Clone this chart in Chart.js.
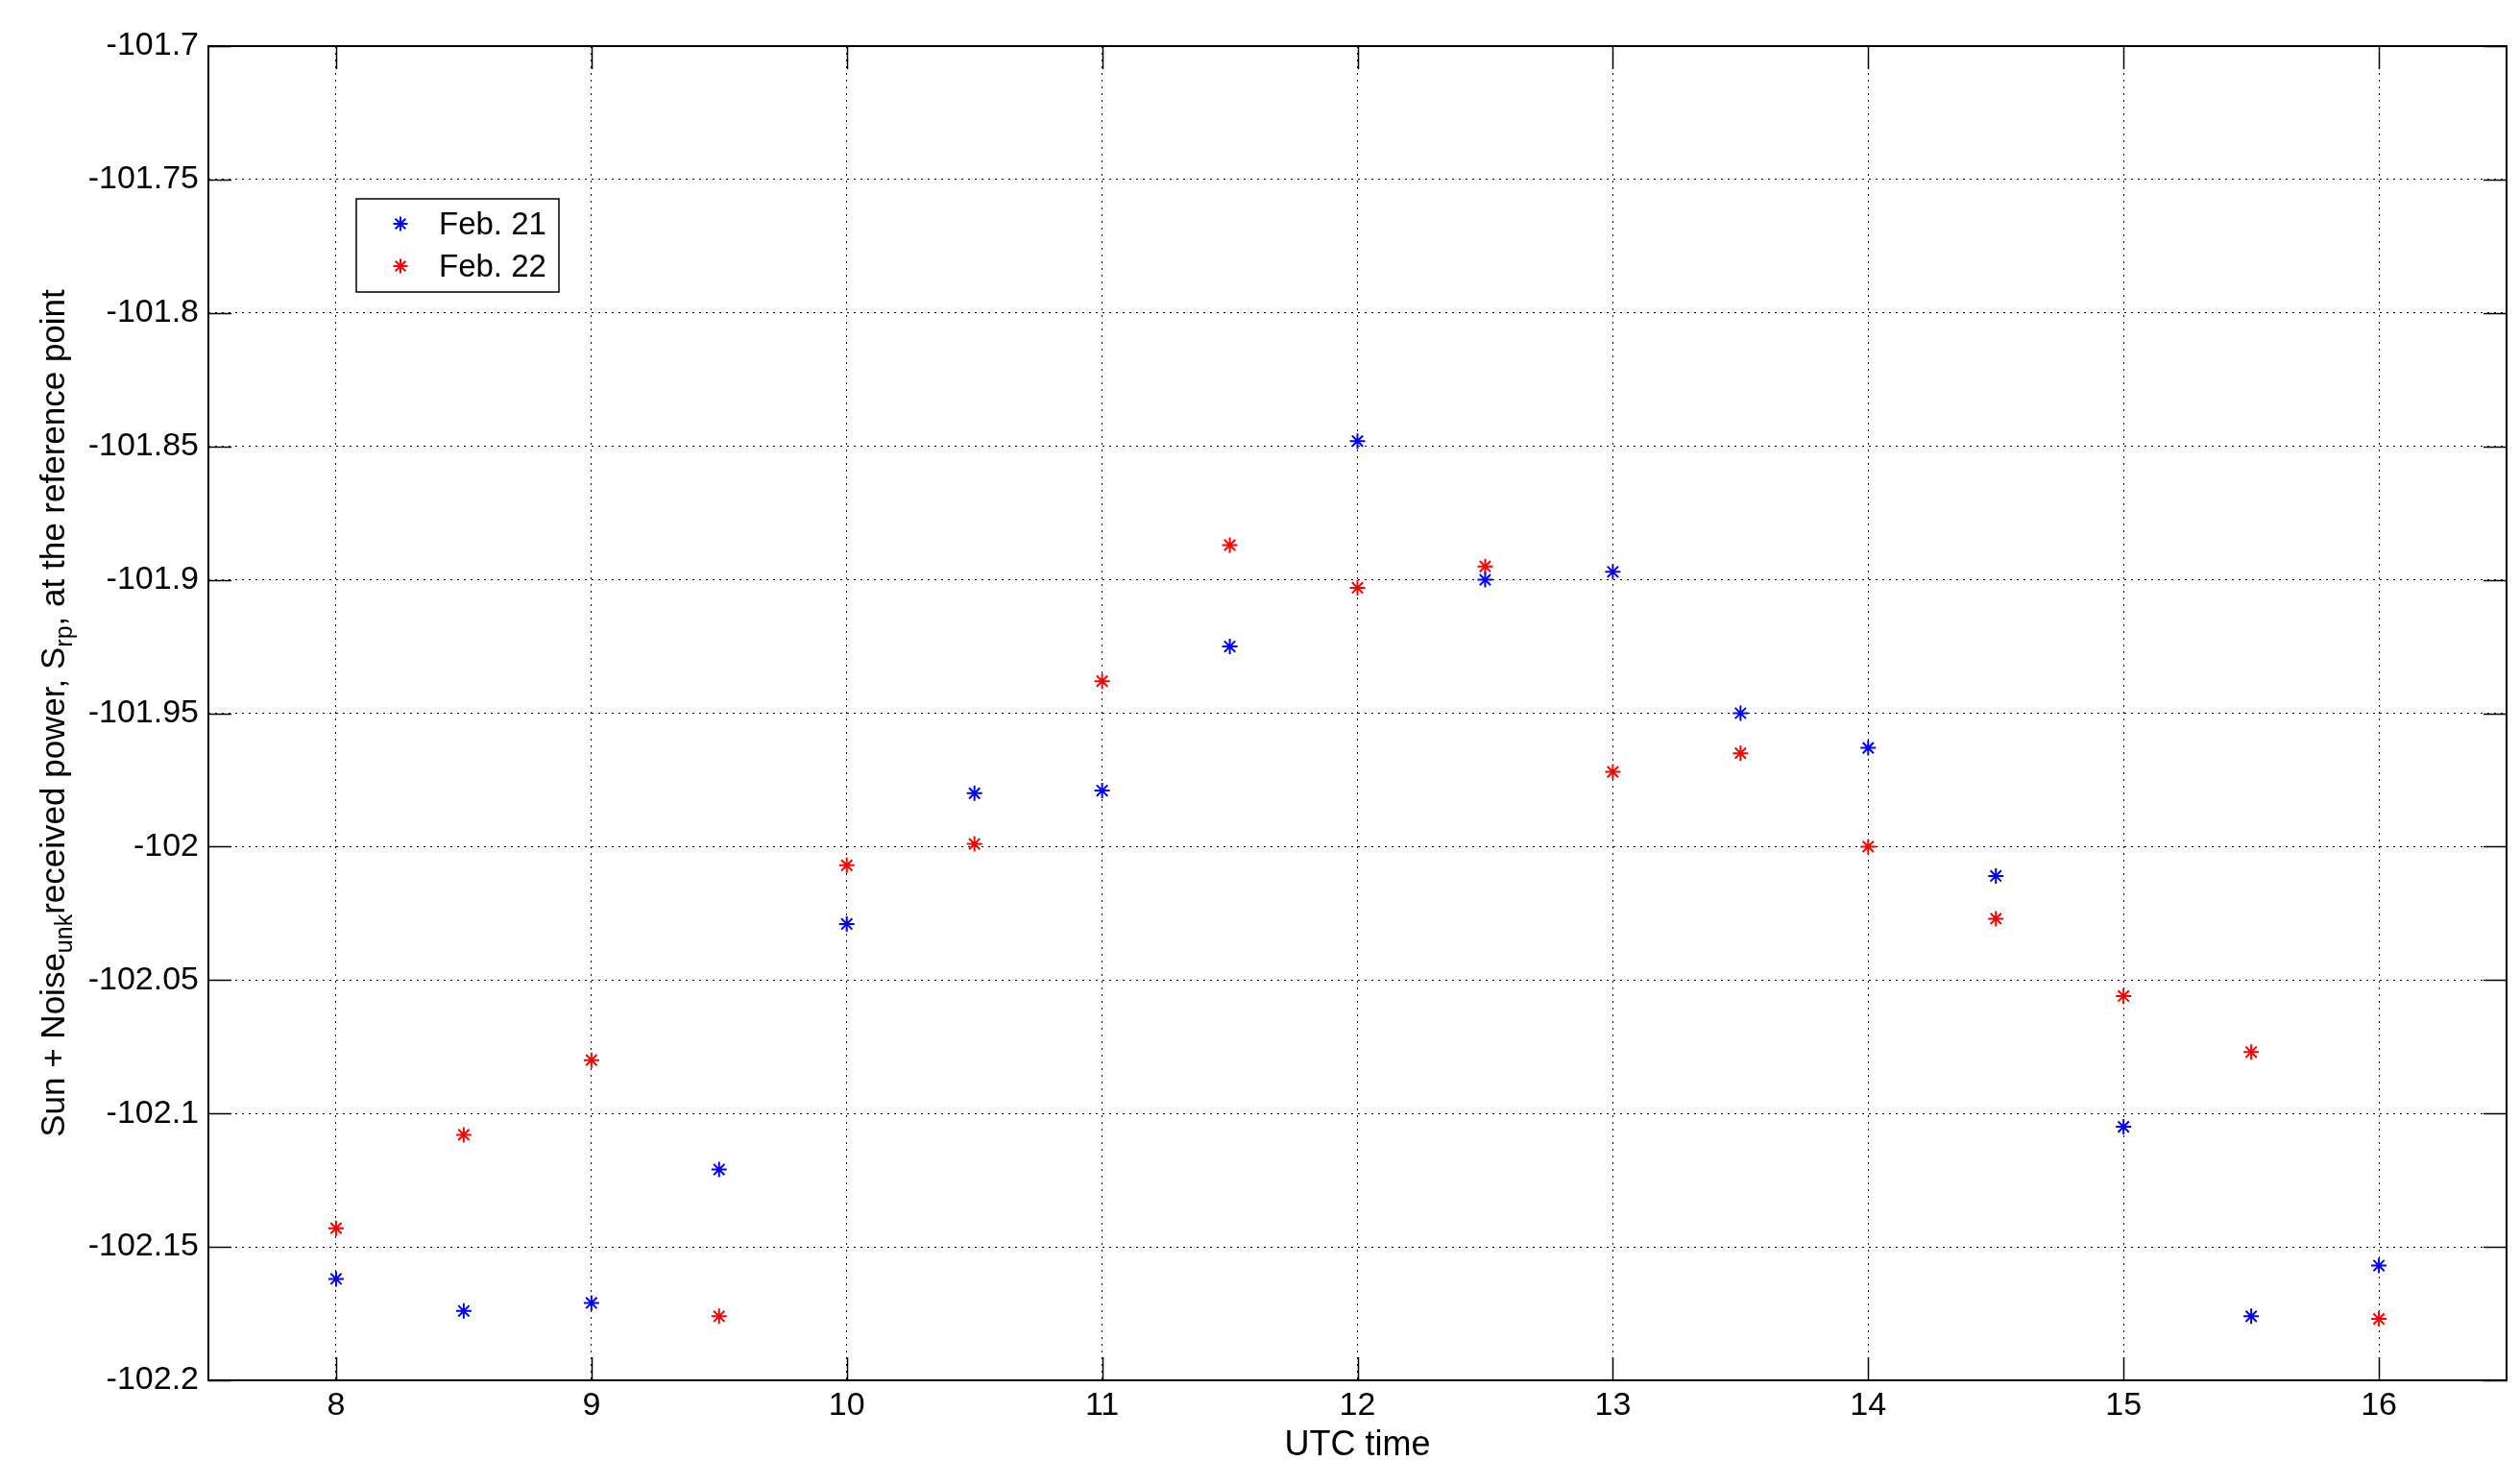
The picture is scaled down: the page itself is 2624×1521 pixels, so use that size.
<!DOCTYPE html>
<html>
<head>
<meta charset="utf-8">
<script src="https://cdn.jsdelivr.net/npm/chart.js@4/dist/chart.umd.min.js"></script>
<style>
  html, body { margin: 0; padding: 0; background: #ffffff; }
  #wrap { width: 2624px; height: 1521px; }
</style>
</head>
<body>
<div id="wrap"><canvas id="c" width="2624" height="1521"></canvas></div>
<script>
// ---- Data ----
const xValues = [8, 8.5, 9, 9.5, 10, 10.5, 11, 11.5, 12, 12.5, 13, 13.5, 14, 14.5, 15, 15.5, 16];
const feb21 = [-102.162, -102.174, -102.171, -102.121, -102.029, -101.980, -101.979, -101.925, -101.848,
               -101.900, -101.897, -101.950, -101.963, -102.011, -102.105, -102.176, -102.157];
const feb22 = [-102.143, -102.108, -102.080, -102.176, -102.007, -101.999, -101.938, -101.887, -101.903,
               -101.895, -101.972, -101.965, -102.000, -102.027, -102.056, -102.077, -102.177];
const seriesLabels = ['Feb. 21', 'Feb. 22'];
const xTickValues = [8, 9, 10, 11, 12, 13, 14, 15, 16];
const xTickLabels = ['8', '9', '10', '11', '12', '13', '14', '15', '16'];
const yTickValues = [-102.2, -102.15, -102.1, -102.05, -102, -101.95, -101.9, -101.85, -101.8, -101.75, -101.7];
const yTickLabels = ['-102.2', '-102.15', '-102.1', '-102.05', '-102', '-101.95', '-101.9', '-101.85', '-101.8', '-101.75', '-101.7'];
const xAxisTitle = 'UTC time';
// y-axis title pieces: [text, isSubscript]
const yAxisTitle = [['Sun + Noise', false], ['unk', true], ['received power, S', false], ['rp', true], [', at the reference point', false]];

const FONT = '"Liberation Sans", Arial, Helvetica, sans-serif';

function drawStar(ctx, x, y, r) {
  ctx.beginPath();
  ctx.moveTo(x - r, y); ctx.lineTo(x + r, y);
  ctx.moveTo(x, y - r); ctx.lineTo(x, y + r);
  const d = r * Math.SQRT1_2;
  ctx.moveTo(x - d, y - d); ctx.lineTo(x + d, y + d);
  ctx.moveTo(x - d, y + d); ctx.lineTo(x + d, y - d);
  ctx.stroke();
}

const framePlugin = {
  id: 'frame',
  beforeDatasetsDraw(chart) {
    const { ctx, chartArea: a, scales } = chart;
    ctx.save();
    ctx.strokeStyle = '#000';
    ctx.lineWidth = 1.5;
    const tl = 24;
    ctx.beginPath();
    xTickValues.forEach(v => {
      const px = Math.round(scales.x.getPixelForValue(v)) + 0.5;
      ctx.moveTo(px, a.bottom); ctx.lineTo(px, a.bottom - tl);
      ctx.moveTo(px, a.top); ctx.lineTo(px, a.top + tl);
    });
    yTickValues.forEach(v => {
      const py = Math.round(scales.y.getPixelForValue(v)) + 0.5;
      ctx.moveTo(a.left, py); ctx.lineTo(a.left + tl, py);
      ctx.moveTo(a.right, py); ctx.lineTo(a.right - tl, py);
    });
    ctx.stroke();
    ctx.lineWidth = 2;
    ctx.strokeRect(a.left, a.top, a.right - a.left, a.bottom - a.top);
    ctx.restore();
  },
  afterDraw(chart) {
    const { ctx, chartArea: a } = chart;
    ctx.save();
    ctx.fillStyle = '#000';
    // x title
    ctx.font = '36px ' + FONT;
    ctx.textAlign = 'center';
    ctx.textBaseline = 'alphabetic';
    ctx.fillText(xAxisTitle, (a.left + a.right) / 2, 1515);
    // y title with subscripts
    const mainF = '35px ' + FONT, subF = '25px ' + FONT;
    let total = 0;
    const widths = yAxisTitle.map(([t, sub]) => { ctx.font = sub ? subF : mainF; const w = ctx.measureText(t).width; total += w; return w; });
    ctx.translate(54, (a.top + a.bottom) / 2);
    ctx.rotate(-Math.PI / 2);
    ctx.textAlign = 'left';
    let xx = -total / 2;
    yAxisTitle.forEach(([t, sub], i) => {
      ctx.font = sub ? subF : mainF;
      ctx.fillText(t, xx, sub ? 21 : 13);
      xx += widths[i];
    });
    ctx.restore();

    // legend
    ctx.save();
    const bx = 371, by = 207, bw = 211, bh = 97;
    ctx.fillStyle = '#fff';
    ctx.fillRect(bx, by, bw, bh);
    ctx.strokeStyle = '#000';
    ctx.lineWidth = 1.5;
    ctx.strokeRect(bx, by, bw, bh);
    ctx.font = '33px ' + FONT;
    ctx.textAlign = 'left';
    ctx.textBaseline = 'middle';
    chart.data.datasets.forEach((ds, i) => {
      const cy = 233 + i * 44;
      ctx.strokeStyle = ds.borderColor;
      ctx.lineWidth = 2;
      drawStar(ctx, 417, cy, 7.5);
      ctx.fillStyle = '#000';
      ctx.fillText(ds.label, 457, cy + 2);
    });
    ctx.restore();
  }
};

const mk = (ys) => xValues.map((x, i) => ({ x: x, y: ys[i] }));

new Chart(document.getElementById('c'), {
  type: 'scatter',
  data: {
    datasets: [
      { label: seriesLabels[0], data: mk(feb21), borderColor: '#0000ff', backgroundColor: '#0000ff',
        pointStyle: 'star', pointRadius: 8, pointBorderWidth: 2, showLine: false },
      { label: seriesLabels[1], data: mk(feb22), borderColor: '#ff0000', backgroundColor: '#ff0000',
        pointStyle: 'star', pointRadius: 8, pointBorderWidth: 2, showLine: false }
    ]
  },
  options: {
    responsive: false,
    animation: false,
    events: [],
    layout: { padding: { top: 48, right: 14, bottom: 0, left: 0 } },
    plugins: { legend: { display: false }, tooltip: { enabled: false }, title: { display: false } },
    scales: {
      x: {
        type: 'linear', min: 7.5, max: 16.5,
        afterBuildTicks: s => { s.ticks = xTickValues.map(v => ({ value: v })); },
        afterFit: s => { s.height = 84; },
        grid: { color: '#000', lineWidth: 1, drawTicks: false },
        border: { display: false, dash: [2, 5] },
        ticks: { autoSkip: false, maxRotation: 0, padding: 6, color: '#000',
                 font: { family: FONT, size: 34 },
                 callback: (v, i) => xTickLabels[i] }
      },
      y: {
        type: 'linear', min: -102.2, max: -101.7,
        afterBuildTicks: s => { s.ticks = yTickValues.map(v => ({ value: v })); },
        afterFit: s => { s.width = 217; },
        grid: { color: '#000', lineWidth: 1, drawTicks: false },
        border: { display: false, dash: [2, 5] },
        ticks: { autoSkip: false, padding: 10, color: '#000',
                 font: { family: FONT, size: 34 },
                 callback: (v, i) => yTickLabels[i] }
      }
    }
  },
  plugins: [framePlugin]
});
</script>
</body>
</html>
